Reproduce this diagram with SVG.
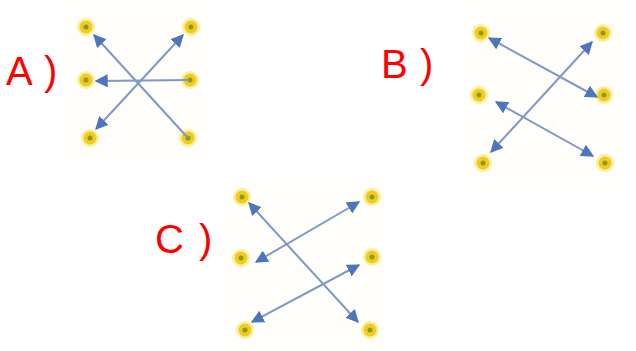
<svg xmlns="http://www.w3.org/2000/svg" width="636" height="351" viewBox="0 0 636 351">
  <style>
    .panel { fill: #fffefa; }
    .lbl { font-family: "Liberation Sans", Arial, sans-serif; font-size: 40px; fill: #ff0000; }
    .halo { fill: #f8e04a; opacity: 0.5; }
    .dot { fill: #efcc1e; }
    .core { fill: #8a9a1e; }
    .ln { stroke: #7f98c8; stroke-width: 2; fill: none; }
    .one { marker-end: url(#ah); }
    .two { marker-start: url(#ah); marker-end: url(#ah); }
  </style>
  <defs>
    <marker id="ah" viewBox="0 0 10 10" refX="9" refY="5" markerWidth="6.5" markerHeight="6.5" orient="auto-start-reverse" markerUnits="strokeWidth">
      <path d="M0,0 L10,5 L0,10 Z" fill="#4d76bd"/>
    </marker>
    <g id="d">
      <circle class="halo" r="9"/>
      <circle class="dot" r="6.5"/>
      <circle class="core" r="2.5"/>
    </g>
  </defs>

  <rect class="panel" x="63" y="8" width="149" height="152"/>
  <rect class="panel" x="458" y="8" width="170" height="178"/>
  <rect class="panel" x="222" y="180" width="166" height="168"/>

  <text class="lbl" x="6" y="85">A</text>
  <text class="lbl" x="44" y="85">)</text>
  <text class="lbl" x="381" y="78">B</text>
  <text class="lbl" x="420" y="78">)</text>
  <text class="lbl" x="155" y="253">C</text>
  <text class="lbl" x="199" y="253">)</text>

  <g id="nodes">
    <g id="a-l1"><use href="#d" x="86" y="27"/></g>
    <g id="a-l2"><use href="#d" x="86" y="80"/></g>
    <g id="a-l3"><use href="#d" x="90" y="138"/></g>
    <g id="a-r1"><use href="#d" x="191" y="27"/></g>
    <g id="a-r2"><use href="#d" x="190" y="80"/></g>
    <g id="a-r3"><use href="#d" x="188" y="138"/></g>

    <g id="b-l1"><use href="#d" x="481" y="33"/></g>
    <g id="b-l2"><use href="#d" x="479" y="95"/></g>
    <g id="b-l3"><use href="#d" x="483" y="163"/></g>
    <g id="b-r1"><use href="#d" x="603" y="33"/></g>
    <g id="b-r2"><use href="#d" x="604" y="95"/></g>
    <g id="b-r3"><use href="#d" x="605" y="163"/></g>

    <g id="c-l1"><use href="#d" x="242" y="197"/></g>
    <g id="c-l2"><use href="#d" x="241" y="258"/></g>
    <g id="c-l3"><use href="#d" x="245" y="330"/></g>
    <g id="c-r1"><use href="#d" x="372" y="197"/></g>
    <g id="c-r2"><use href="#d" x="372" y="257"/></g>
    <g id="c-r3"><use href="#d" x="370" y="330"/></g>
  </g>

  <g id="connectors">
    <line class="ln one" x1="188" y1="138" x2="94" y2="35"/>
    <line class="ln two" x1="96" y1="129" x2="183" y2="35"/>
    <line class="ln one" x1="189" y1="80" x2="96" y2="81"/>

    <line class="ln two" x1="489" y1="38" x2="597" y2="97"/>
    <line class="ln two" x1="496" y1="102" x2="593" y2="156"/>
    <line class="ln two" x1="491" y1="152" x2="592" y2="42"/>

    <line class="ln two" x1="249" y1="203" x2="358" y2="322"/>
    <line class="ln two" x1="359" y1="202" x2="256" y2="262"/>
    <line class="ln two" x1="359" y1="265" x2="252" y2="322"/>
  </g>
</svg>
